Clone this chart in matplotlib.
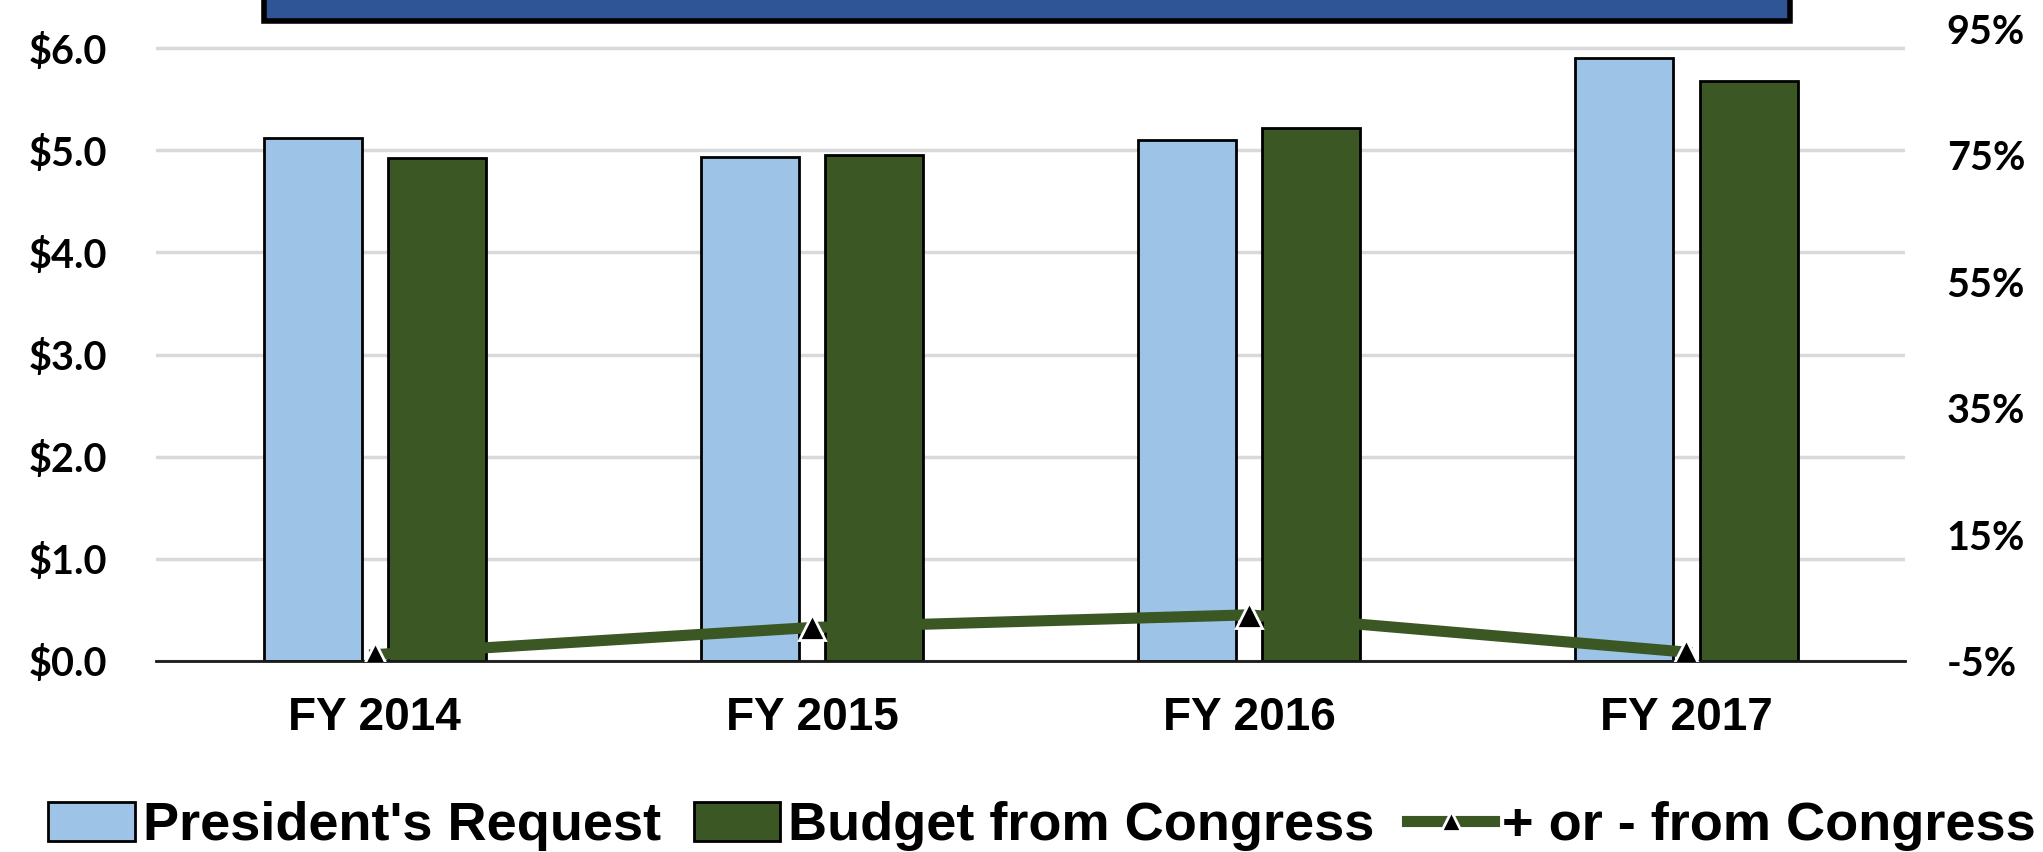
import numpy as np
import matplotlib
matplotlib.use('Agg')
import matplotlib.pyplot as plt
from matplotlib.patches import Rectangle
from matplotlib.lines import Line2D

years = ['FY 2014', 'FY 2015', 'FY 2016', 'FY 2017']
request = [5.12, 4.93, 5.10, 5.90]
congress = [4.92, 4.955, 5.22, 5.68]
diff_pct = [-4.0, 0.3, 2.3, -3.6]

left_ticks = [0, 1, 2, 3, 4, 5, 6]
left_labels = ['$0.0', '$1.0', '$2.0', '$3.0', '$4.0', '$5.0', '$6.0']
right_ticks = [-5, 15, 35, 55, 75, 95]
right_labels = ['-5%', '15%', '35%', '55%', '75%', '95%']

c_req = '#9DC3E6'
c_con = '#3B5724'
c_box = '#2F5597'

fig = plt.figure(figsize=(20.43, 8.52), dpi=100)
ax = fig.add_axes([0.0764, 0.2242, 0.8561, 0.7421])
x = np.arange(len(years))
w = 0.224
off = 0.142

ax.set_axisbelow(True)
ax.yaxis.grid(True, color='#D9D9D9', lw=2.5)
ax.bar(x - off, request, w, color=c_req, edgecolor='black', lw=2, zorder=2)
ax.bar(x + off, congress, w, color=c_con, edgecolor='black', lw=2, zorder=2)
ax.set_xlim(-0.5, 3.5)
ax.set_ylim(0, 6.19)
ax.set_yticks(left_ticks)
ax.set_yticklabels(left_labels, fontsize=28.5, fontweight='bold', family='Lato')
ax.set_xticks(x)
ax.set_xticklabels(years, fontsize=33, fontweight='bold', family='Liberation Sans')
ax.tick_params(axis='y', length=0, pad=35)
ax.tick_params(axis='x', length=0, pad=25)
for s in ['top', 'right', 'left']:
    ax.spines[s].set_visible(False)
ax.spines['bottom'].set_color('#1a1a1a')
ax.spines['bottom'].set_linewidth(2)
ax.spines['bottom'].set_zorder(3)

ax2 = ax.twinx()
ax2.plot(x, diff_pct, color=c_con, lw=8, marker='^', ms=19, mfc='black',
         mec='white', mew=2, zorder=4)
ax2.set_ylim(-5, 95)
ax2.set_yticks(right_ticks)
ax2.set_yticklabels(right_labels, fontsize=28.5, fontweight='bold', family='Lato')
ax2.tick_params(length=0, pad=30)
for s in ax2.spines.values():
    s.set_visible(False)

# title box cut off at the top
fig.patches.append(Rectangle((0.129, 0.975), 0.747, 0.08, transform=fig.transFigure,
                             facecolor=c_box, edgecolor='black', lw=4, clip_on=False))

handles = [
    Rectangle((0, 0), 1, 1, facecolor=c_req, edgecolor='black', lw=2),
    Rectangle((0, 0), 1, 1, facecolor=c_con, edgecolor='black', lw=2),
    Line2D([], [], color=c_con, lw=8, marker='^', ms=15, mfc='black', mec='white', mew=2),
]
fig.legend(handles, ["President's Request", 'Budget from Congress', '+ or - from Congress'],
           loc='center', bbox_to_anchor=(0.51, 0.03), ncol=3, frameon=False,
           prop={'family': 'Liberation Sans', 'weight': 'bold', 'size': 39},
           handlelength=1.6, handleheight=0.75, handletextpad=0.15, columnspacing=0.6)

fig.savefig('out.png', dpi=100)
